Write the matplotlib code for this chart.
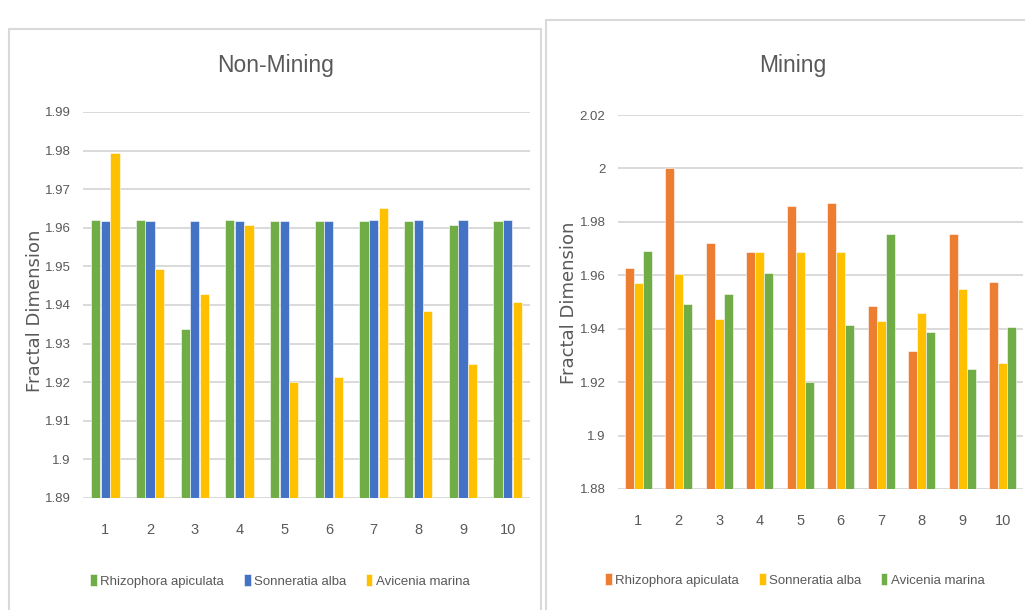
import matplotlib
matplotlib.use("Agg")
import matplotlib.pyplot as plt
from matplotlib.patches import Rectangle
from matplotlib.ticker import FuncFormatter, MultipleLocator
import numpy as np

# fractal dimension per plot, three mangrove species
plots = ['1', '2', '3', '4', '5', '6', '7', '8', '9', '10']

nm_rhizophora = [1.9621, 1.9621, 1.9339, 1.9621, 1.9617, 1.9617, 1.9617, 1.9617, 1.9608, 1.9617]
nm_sonneratia = [1.9617, 1.9617, 1.9617, 1.9617, 1.9617, 1.9617, 1.9621, 1.9621, 1.9621, 1.9621]
nm_avicenia = [1.9794, 1.9493, 1.9428, 1.9608, 1.9200, 1.9213, 1.9650, 1.9385, 1.9248, 1.9408]

m_rhizophora = [1.9629, 2.0000, 1.9719, 1.9689, 1.9860, 1.9871, 1.9484, 1.9316, 1.9754, 1.9575]
m_sonneratia = [1.9570, 1.9606, 1.9438, 1.9689, 1.9689, 1.9689, 1.9429, 1.9459, 1.9549, 1.9271]
m_avicenia = [1.9691, 1.9494, 1.9529, 1.9610, 1.9200, 1.9414, 1.9754, 1.9388, 1.9250, 1.9408]

GREEN = '#70AD47'
BLUE = '#4472C4'
GOLD = '#FFC000'
ORANGE = '#ED7D31'
GRID = '#D9D9D9'
TXT = '#595959'

plt.rcParams['font.family'] = ['Liberation Sans', 'DejaVu Sans']

W, H = 1025, 610
fig = plt.figure(figsize=(W / 100, H / 100), dpi=100)


def px(x0, y0, x1, y1):
    # pixel box -> figure fraction [left, bottom, width, height]
    return [x0 / W, 1 - y1 / H, (x1 - x0) / W, (y1 - y0) / H]


def style_axes(ax, lo, hi, step):
    ax.set_ylim(lo, hi)
    ax.set_xlim(-0.5, len(plots) - 0.5)
    ax.yaxis.set_major_locator(MultipleLocator(step))
    ax.yaxis.set_major_formatter(FuncFormatter(lambda v, p: '{:g}'.format(round(v, 3))))
    ax.set_xticks(np.arange(len(plots)))
    ax.set_xticklabels(plots)
    for s in ax.spines.values():
        s.set_visible(False)
    ax.grid(axis='y', color=GRID, lw=1.4)
    ax.set_axisbelow(True)
    ax.tick_params(axis='both', length=0, labelcolor=TXT)
    ax.tick_params(axis='x', pad=18, labelsize=10.5)
    ax.tick_params(axis='y', pad=9, labelsize=9.5)


def draw_group(ax, series, colors, names, width, offset):
    x = np.arange(len(plots))
    handles = []
    for i, (vals, c, n) in enumerate(zip(series, colors, names)):
        b = ax.bar(x + (i - 1) * offset, vals, width, color=c, label=n,
                   edgecolor='white', linewidth=0.4)
        handles.append(b)
    return handles


names = ['Rhizophora apiculata', 'Sonneratia alba', 'Avicenia marina']

# Non-Mining panel
ax1 = fig.add_axes(px(83, 112, 530, 498))
h1 = draw_group(ax1, [nm_rhizophora, nm_sonneratia, nm_avicenia],
                [GREEN, BLUE, GOLD], names, 0.205, 0.215)
style_axes(ax1, 1.89, 1.99, 0.01)

# Mining panel
ax2 = fig.add_axes(px(618, 115, 1023, 489))
h2 = draw_group(ax2, [m_rhizophora, m_sonneratia, m_avicenia],
                [ORANGE, GOLD, GREEN], names, 0.225, 0.225)
style_axes(ax2, 1.88, 2.02, 0.02)

# titles and axis labels
fig.text(276 / W, 1 - 72 / H, 'Non-Mining', ha='center', va='baseline',
         fontsize=16.5, color=TXT)
fig.text(793 / W, 1 - 72 / H, 'Mining', ha='center', va='baseline',
         fontsize=16.5, color=TXT)
fig.text(35 / W, 1 - 311 / H, 'Fractal Dimension', rotation=90, ha='center',
         va='center', fontsize=13, color=TXT, family='DejaVu Sans')
fig.text(569 / W, 1 - 303 / H, 'Fractal Dimension', rotation=90, ha='center',
         va='center', fontsize=13, color=TXT, family='DejaVu Sans')

# legends under each panel
for handles, cx, cy in [(h1, 280, 581), (h2, 795, 580)]:
    leg = fig.legend(handles=handles, labels=names, loc='center',
                     bbox_to_anchor=(cx / W, 1 - cy / H), ncol=3, frameon=False,
                     fontsize=9.5, handlelength=0.5, handleheight=1.0,
                     handletextpad=0.25, columnspacing=1.5)
    for t in leg.get_texts():
        t.set_color(TXT)

# chart area borders
fig.add_artist(Rectangle((9 / W, -0.02), (541 - 9) / W, 0.02 + 1 - 29 / H,
                         transform=fig.transFigure, fill=False, ec=GRID, lw=1.5))
fig.add_artist(Rectangle((546 / W, -0.02), 0.5, 0.02 + 1 - 20 / H,
                         transform=fig.transFigure, fill=False, ec=GRID, lw=1.5))

fig.savefig('out.png', dpi=100)
